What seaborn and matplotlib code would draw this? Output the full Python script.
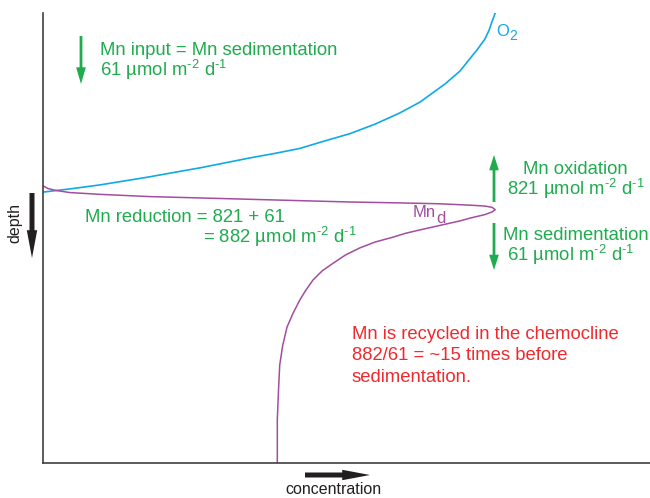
import pandas as pd
import matplotlib.pyplot as plt
import seaborn as sns

# --- data (arbitrary units: concentration 0-100, depth 0-100 downwards) ---
o2_conc = [0, 4.4, 9.4, 13.5, 17.6, 21.7, 25.9, 30.0, 34.1, 38.2, 42.3, 46.5, 50.6,
           54.7, 58.8, 62.1, 66.2, 68.7, 70.3, 71.5, 72.8, 73.5, 74.0, 74.5]
o2_depth = [39.8, 39.1, 38.2, 37.3, 36.4, 35.4, 34.4, 33.3, 32.2, 31.2, 30.1, 28.4, 26.8,
            24.7, 22.2, 19.8, 15.8, 12.9, 10.2, 8.2, 5.8, 3.8, 1.8, 0]

mn_conc = [0, 0.8, 2.0, 4.4, 9.4, 17.6, 25.9, 34.1, 42.3, 50.6, 58.8, 65.4, 70.3, 72.8,
           74.0, 74.5, 74.0, 72.8, 70.3, 68.7, 65.4, 62.1, 59.6, 57.7, 54.7, 52.2, 49.8,
           47.8, 46.0, 44.5, 43.3, 42.3, 41.2, 40.2, 39.5, 39.0, 38.8, 38.6, 38.6, 38.6]
mn_depth = [38.4, 39.0, 39.4, 39.9, 40.3, 40.8, 41.1, 41.4, 41.7, 42.0, 42.2, 42.4, 42.7, 42.9,
            43.2, 43.7, 44.2, 44.8, 45.6, 46.2, 47.2, 48.2, 49.0, 49.8, 50.9, 52.2, 53.8,
            55.6, 57.3, 59.3, 61.6, 63.8, 66.7, 69.8, 73.8, 78.2, 83.8, 90.4, 96.0, 100]

GREEN = '#1fab4e'
RED = '#ee2a2f'
BLUE = '#0fa9e6'
PURPLE = '#a24d9f'
BLACK = '#231f20'

sns.set_style('white')
plt.rcParams['font.family'] = ['Liberation Sans', 'DejaVu Sans']
plt.rcParams['mathtext.fontset'] = 'custom'
plt.rcParams['mathtext.rm'] = 'Liberation Sans'
plt.rcParams['mathtext.it'] = 'Liberation Sans'
plt.rcParams['mathtext.default'] = 'regular'

W, H = 650, 498
fig = plt.figure(figsize=(W / 100, H / 100), dpi=100)
ax = fig.add_axes([43 / W, 35 / H, 607 / W, 450 / H])

o2 = pd.DataFrame({'conc': o2_conc, 'depth': o2_depth})
mn = pd.DataFrame({'conc': mn_conc, 'depth': mn_depth})
sns.lineplot(data=o2, x='conc', y='depth', sort=False, estimator=None,
             color=BLUE, lw=1.2, ax=ax)
sns.lineplot(data=mn, x='conc', y='depth', sort=False, estimator=None,
             color=PURPLE, lw=1.1, ax=ax)

ax.set_xlim(0, 100)
ax.set_ylim(100, 0)
ax.set_xticks([])
ax.set_yticks([])
ax.set_xlabel('')
ax.set_ylabel('')
sns.despine(ax=ax)
for s in ['left', 'bottom']:
    ax.spines[s].set_color('#404040')
    ax.spines[s].set_linewidth(1.2)


def fx(x):
    return x / W


def fy(y):
    return 1 - y / H


def txt(x, y, s, color, size=13.3, ha='left', **kw):
    fig.text(fx(x), fy(y), s, color=color, fontsize=size, ha=ha, va='baseline', **kw)


def arrow(x0, y0, x1, y1, color, hl, hw, tw):
    ax.annotate('', xy=(x1, H - y1), xytext=(x0, H - y0), xycoords='figure pixels',
                textcoords='figure pixels', annotation_clip=False,
                arrowprops=dict(arrowstyle=f'simple,head_length={hl},head_width={hw},tail_width={tw}',
                                color=color, shrinkA=0, shrinkB=0, mutation_scale=10, lw=0))


unit = r' µmol m$^{\text{-2}}$ d$^{\text{-1}}$'

# top left
arrow(81, 36, 81, 84, GREEN, 1.2, 0.7, 0.2)
txt(100, 55, 'Mn input = Mn sedimentation', GREEN)
txt(100, 76, '61' + unit, GREEN)

# right side
arrow(494, 202, 494, 155, GREEN, 1.1, 0.7, 0.2)
txt(575, 174, 'Mn oxidation', GREEN, ha='center')
txt(576, 195, '821' + unit, GREEN, ha='center')
arrow(494, 223, 494, 270, GREEN, 1.1, 0.7, 0.2)
txt(503, 240, 'Mn sedimentation', GREEN)
txt(507, 261, '61' + unit, GREEN)

# reduction
txt(85, 222, 'Mn reduction = 821 + 61', GREEN)
txt(203, 243, '= 882' + unit, GREEN)

# curve labels
txt(413, 217, 'Mn', PURPLE, size=12)
txt(436, 223, 'd', PURPLE, size=12)
txt(496, 36, 'O', BLUE, size=12)
txt(509, 40, '2', BLUE, size=10)

# red note
txt(352, 339, 'Mn is recycled in the chemocline', RED)
txt(352, 360, '882/61 = ~15 times before', RED)
txt(352, 382, 'sedimentation.', RED)

# axis labels with arrows
fig.text(fx(15), fy(223), 'depth', rotation=90, ha='center', va='center', fontsize=11.5, color=BLACK)
arrow(32, 193, 32, 258, BLACK, 2.0, 0.75, 0.36)
txt(333, 494, 'concentration', BLACK, size=11.5, ha='center')
arrow(305, 475, 370, 475, BLACK, 2.0, 0.75, 0.36)

fig.savefig('out.png', dpi=100)
